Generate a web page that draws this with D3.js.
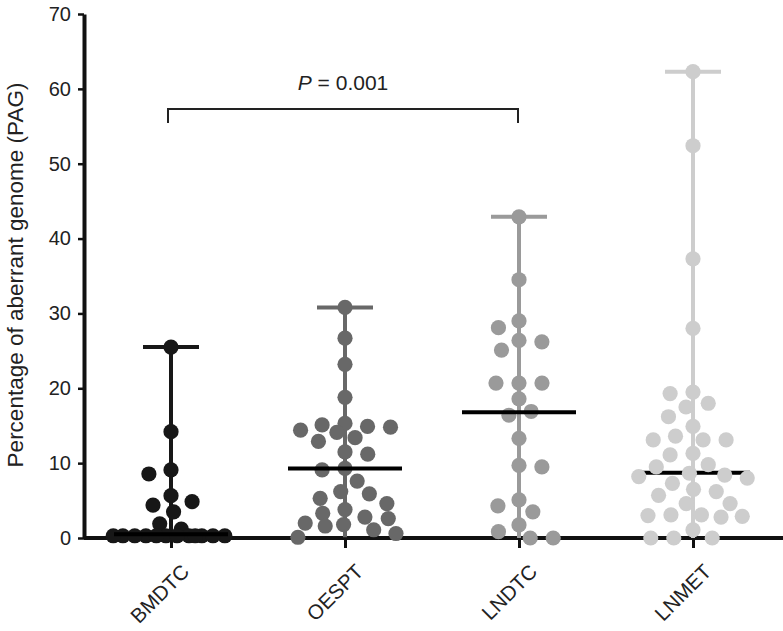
<!DOCTYPE html>
<html>
<head>
<meta charset="utf-8">
<script src="https://cdn.jsdelivr.net/npm/d3@7"></script>
<style>
  html, body { margin: 0; padding: 0; background: #fff; }
  svg { display: block; font-family: "Liberation Sans", Arial, sans-serif; }
</style>
</head>
<body>
<svg id="chart" width="783" height="631"></svg>
<script>
// ---- Data ----
const categories = ["BMDTC", "OESPT", "LNDTC", "LNMET"];

const bmdtcValues = [25.5, 14.2, 9.1, 8.55, 5.65, 4.85, 4.4, 3.5, 1.9, 1.2,
  0.3, 0.3, 0.3, 0.3, 0.3, 0.3, 0.3, 0.3, 0.3, 0.3, 0.3, 0.3];
const oesptValues = [30.8, 26.7, 23.2, 18.8, 15.3, 15.1, 14.9, 14.8, 14.4, 14.1,
  13.4, 12.9, 11.5, 11.2, 9.3, 9.1, 7.6, 6.2, 5.9, 5.3, 4.6, 3.8, 3.3, 2.8,
  2.6, 2.0, 1.8, 1.6, 1.1, 0.6, 0.1];
const lndtcValues = [42.9, 34.5, 29.0, 28.1, 26.4, 26.2, 25.1, 20.7, 20.7, 20.7,
  18.6, 16.9, 16.4, 13.3, 9.7, 9.5, 5.1, 4.3, 3.5, 1.75, 0.85, 0, 0];
const lnmetValues = [62.3, 52.4, 37.3, 28.0, 19.5, 19.3, 18.0, 17.5, 16.2, 14.9,
  13.6, 13.1, 13.1, 13.1, 11.3, 11.1, 9.8, 9.5, 8.65, 8.4, 8.2, 8.0, 7.3, 6.5,
  6.2, 5.7, 4.6, 4.6, 3.1, 3.1, 3.0, 2.9, 2.8, 1.1, 0, 0, 0];

const medians = [0.5, 9.3, 16.8, 8.7];
const yTicks = [0, 10, 20, 30, 40, 50, 60, 70];
const pLabelValue = "0.001";

const seriesValues = [bmdtcValues, oesptValues, lndtcValues, lnmetValues];

// ---- Styles ----
const colors = ["#171717", "#686868", "#9a9a9a", "#cdcdcd"];
const medianOnTop = [true, true, true, false];
const R = 7.6;
const FONT = "'Liberation Sans', Arial, Helvetica, sans-serif";

const svg = d3.select("#chart");
const x = d3.scalePoint().domain(categories).range([84, 780]).padding(0.5);
const y = d3.scaleLinear().domain([0, 70]).range([538, 14]);

// ---- Beeswarm layout (elliptical spacing: wider horizontally) ----
function swarm(values, Dx, Dy, maxHalf) {
  const k = Dy / Dx; // scale x into isotropic space
  const pts = values.map((v, i) => ({ v, i, y: y(v), x: 0 }))
    .sort((a, b) => b.v - a.v);
  const placed = [];
  let flip = 1;
  pts.forEach(p => {
    let d = Dy, best = 0;
    const lim = maxHalf * k;
    for (let iter = 0; iter < 40; iter++) {
      const cands = [0];
      placed.forEach(q => {
        const dy = Math.abs(q.y - p.y);
        if (dy < d) {
          const w = Math.sqrt(d * d - dy * dy);
          cands.push(q.xs - w, q.xs + w);
        }
      });
      const ok = cands.filter(cx => placed.every(q => {
        const dx = cx - q.xs, dy = q.y - p.y;
        return dx * dx + dy * dy >= d * d - 1e-6;
      }));
      ok.sort((a, b) => {
        const da = Math.abs(a), db = Math.abs(b);
        if (Math.abs(da - db) > 0.01) return da - db;
        return flip * (a - b);
      });
      best = ok[0];
      if (Math.abs(best) <= lim || d < 3) break;
      d *= 0.93;
    }
    if (Math.abs(best) > 0.01) flip = -flip;
    p.xs = best;
    p.x = best / k;
    placed.push(p);
  });
  return pts;
}

// ---- Axes ----
const yAxis = svg.append("g")
  .attr("transform", "translate(84,0)")
  .call(d3.axisLeft(y).tickValues(yTicks).tickSize(6).tickPadding(7).tickSizeOuter(0));
yAxis.select(".domain").attr("stroke", "#111").attr("stroke-width", 4);
yAxis.selectAll(".tick line").attr("stroke", "#111").attr("stroke-width", 2.5);
yAxis.selectAll(".tick text")
  .attr("font-size", 20).attr("fill", "#222")
  .attr("font-family", FONT);

const xAxis = svg.append("g")
  .attr("transform", "translate(0,538)")
  .call(d3.axisBottom(x).tickSize(10).tickPadding(4).tickSizeOuter(0));
xAxis.select(".domain").attr("d", "M84,0H783").attr("stroke", "#111").attr("stroke-width", 4);
xAxis.selectAll(".tick line").attr("stroke", "#111").attr("stroke-width", 3);
xAxis.selectAll(".tick text")
  .attr("font-size", 20.5).attr("fill", "#222")
  .attr("font-family", FONT)
  .attr("text-anchor", "end")
  .attr("y", 0).attr("dy", "0")
  .attr("transform", "translate(19,35) rotate(-45)");

// y-axis title
svg.append("text")
  .attr("transform", `translate(23,${(y(0) + y(70)) / 2 - 1}) rotate(-90)`)
  .attr("text-anchor", "middle")
  .attr("font-size", 22.5).attr("fill", "#222")
  .attr("font-family", FONT)
  .text("Percentage of aberrant genome (PAG)");

// ---- Groups ----
categories.forEach((cat, gi) => {
  const vals = seriesValues[gi];
  const cx = x(cat);
  const col = colors[gi];
  const g = svg.append("g");
  const vmin = d3.min(vals), vmax = d3.max(vals);
  // range line
  g.append("line")
    .attr("x1", cx).attr("x2", cx)
    .attr("y1", y(vmin)).attr("y2", y(vmax))
    .attr("stroke", col).attr("stroke-width", 4);
  // cap at max
  g.append("line")
    .attr("x1", cx - 28).attr("x2", cx + 28)
    .attr("y1", y(vmax)).attr("y2", y(vmax))
    .attr("stroke", col).attr("stroke-width", 4);

  const drawMedian = () => g.append("line")
    .attr("x1", cx - 57).attr("x2", cx + 57)
    .attr("y1", y(medians[gi])).attr("y2", y(medians[gi]))
    .attr("stroke", "#000").attr("stroke-width", 4);

  if (!medianOnTop[gi]) drawMedian();

  const pts = swarm(vals, 23, 15, 58);
  g.selectAll("circle").data(pts).join("circle")
    .attr("cx", d => cx + d.x)
    .attr("cy", d => d.y)
    .attr("r", R)
    .attr("fill", col);

  if (medianOnTop[gi]) drawMedian();
});

// ---- Significance bracket ----
const bx1 = x("BMDTC") - 3, bx2 = x("LNDTC") - 1, by = y(57.3);
svg.append("path")
  .attr("d", `M${bx1},${by + 14}V${by}H${bx2}V${by + 14}`)
  .attr("fill", "none").attr("stroke", "#222").attr("stroke-width", 2);
const pt = svg.append("text")
  .attr("x", (bx1 + bx2) / 2).attr("y", by - 19)
  .attr("text-anchor", "middle")
  .attr("font-size", 21).attr("fill", "#222")
  .attr("font-family", FONT);
pt.append("tspan").attr("font-style", "italic").text("P");
pt.append("tspan").text(" = " + pLabelValue);
</script>
</body>
</html>
